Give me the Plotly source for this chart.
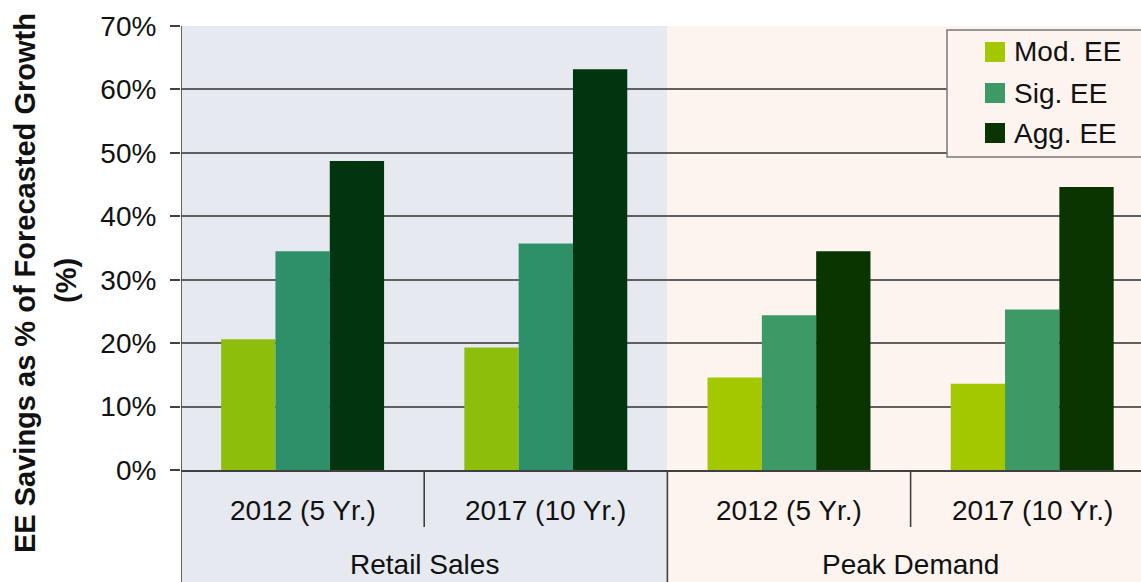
import plotly.graph_objects as go

# ---------------- data ----------------
categories = ["2012 (5 Yr.)", "2017 (10 Yr.)", "2012 (5 Yr.)", "2017 (10 Yr.)"]
groups = ["Retail Sales", "Peak Demand"]
series_names = ["Mod. EE", "Sig. EE", "Agg. EE"]
mod_ee = [0.206, 0.193, 0.146, 0.136]
sig_ee = [0.345, 0.357, 0.244, 0.253]
agg_ee = [0.487, 0.632, 0.345, 0.446]
y_tick_vals = [0, 0.1, 0.2, 0.3, 0.4, 0.5, 0.6, 0.7]
y_title = "EE Savings as % of Forecasted Growth"
y_title_unit = "(%)"

# ---------------- styles ----------------
W, H = 1141, 582
ML, MR, MT, MB = 181, 0, 26, 112
PW, PH = W - ML - MR, H - MT - MB
CAT_PX = 243.2
FONT = "Liberation Sans, Arial, sans-serif"
TXT = "#111111"
retail_colors = ["#8DBE0C", "#2E9068", "#00350F"]
peak_colors = ["#A3C800", "#3D9966", "#0A3500"]
legend_colors = peak_colors
bg_retail = "#E6EAF0"
bg_peak = "#FDF4EF"
grid_col = "#606060"
axis_col = "#404040"
FS = 28

x_pos = list(range(len(categories)))
x_max = PW / CAT_PX - 0.5
series_values = [mod_ee, sig_ee, agg_ee]


def px_to_py(p):
    return (H - MB - p) / PH


def px_to_px(p):
    return (p - ML) / PW


fig = go.Figure()
for i, (name, vals) in enumerate(zip(series_names, series_values)):
    colors = [retail_colors[i] if k < 2 else peak_colors[i] for k in x_pos]
    fig.add_trace(go.Bar(
        x=x_pos, y=vals, name=name, marker=dict(color=colors, line=dict(width=0)),
        showlegend=False, hoverinfo="x+y+name",
    ))

shapes = []
annotations = []
y_bottom = px_to_py(H + 5)
n_per_group = len(categories) // len(groups)
# backgrounds spanning plot + category area
shapes.append(dict(type="rect", xref="x", yref="paper", x0=-0.5, x1=n_per_group - 0.5,
                   y0=y_bottom, y1=1, fillcolor=bg_retail, line=dict(width=0), layer="below"))
shapes.append(dict(type="rect", xref="x", yref="paper", x0=n_per_group - 0.5, x1=x_max + 0.2,
                   y0=y_bottom, y1=1, fillcolor=bg_peak, line=dict(width=0), layer="below"))
# category dividers
y_short = px_to_py(527)
for k in range(len(categories)):
    xb = k - 0.5
    long_line = (k % n_per_group == 0)
    shapes.append(dict(type="line", xref="x", yref="paper", x0=xb, x1=xb,
                       y0=y_bottom if long_line else y_short, y1=0 if k else 1,
                       line=dict(color=axis_col, width=1.6), layer="above"))
# category labels
for k, c in enumerate(categories):
    annotations.append(dict(x=k, y=px_to_py(510), xref="x", yref="paper", text=c,
                            showarrow=False, xanchor="center", yanchor="middle",
                            font=dict(family=FONT, size=FS, color=TXT)))
for g, name in enumerate(groups):
    annotations.append(dict(x=g * n_per_group + (n_per_group - 1) / 2, y=px_to_py(564),
                            xref="x", yref="paper", text=name, showarrow=False,
                            xanchor="center", yanchor="middle",
                            font=dict(family=FONT, size=FS, color=TXT)))
# y-axis title (two lines)
annotations.append(dict(x=px_to_px(25), y=px_to_py(283), xref="paper", yref="paper",
                        text="<b>" + y_title + "</b>", textangle=-90, showarrow=False,
                        xanchor="center", yanchor="middle",
                        font=dict(family=FONT, size=29, color=TXT)))
annotations.append(dict(x=px_to_px(66), y=px_to_py(281), xref="paper", yref="paper",
                        text="<b>" + y_title_unit + "</b>", textangle=-90, showarrow=False,
                        xanchor="center", yanchor="middle",
                        font=dict(family=FONT, size=29, color=TXT)))
# legend box
shapes.append(dict(type="rect", xref="paper", yref="paper",
                   x0=px_to_px(947), x1=px_to_px(1150), y0=px_to_py(157), y1=px_to_py(30),
                   fillcolor=bg_peak, line=dict(color="#7A7A7A", width=1.5), layer="above"))
leg_y = [52, 93, 133]
for i, name in enumerate(series_names):
    yc = leg_y[i]
    shapes.append(dict(type="rect", xref="paper", yref="paper",
                       x0=px_to_px(985), x1=px_to_px(1005),
                       y0=px_to_py(yc + 10), y1=px_to_py(yc - 10),
                       fillcolor=legend_colors[i], line=dict(width=0), layer="above"))
    annotations.append(dict(x=px_to_px(1012), y=px_to_py(yc), xref="paper", yref="paper",
                            text=name, showarrow=False, xanchor="left", yanchor="middle",
                            font=dict(family=FONT, size=FS, color=TXT)))

fig.update_layout(
    width=W, height=H,
    margin=dict(l=ML, r=MR, t=MT, b=MB, pad=0),
    paper_bgcolor="white", plot_bgcolor="rgba(0,0,0,0)",
    barmode="group", bargap=0.33, bargroupgap=0,
    shapes=shapes, annotations=annotations,
    xaxis=dict(range=[-0.5, x_max], showticklabels=False, showgrid=False, zeroline=False,
               showline=True, linecolor=axis_col, linewidth=1.6, ticks="", fixedrange=True),
    yaxis=dict(range=[0, 0.7], tickvals=y_tick_vals, tickformat=".0%",
               showgrid=True, gridcolor=grid_col, gridwidth=1.8,
               zeroline=False, showline=False,
               ticks="outside", ticklen=10, tickcolor=axis_col, tickwidth=1.6,
               ticklabelstandoff=8,
               tickfont=dict(family=FONT, size=FS, color=TXT), fixedrange=True),
    font=dict(family=FONT, color=TXT),
)

fig.write_html(
    "out.html",
    config={"displayModeBar": False},
    post_script="document.body.style.margin='0';document.body.style.overflow='hidden';",
)
